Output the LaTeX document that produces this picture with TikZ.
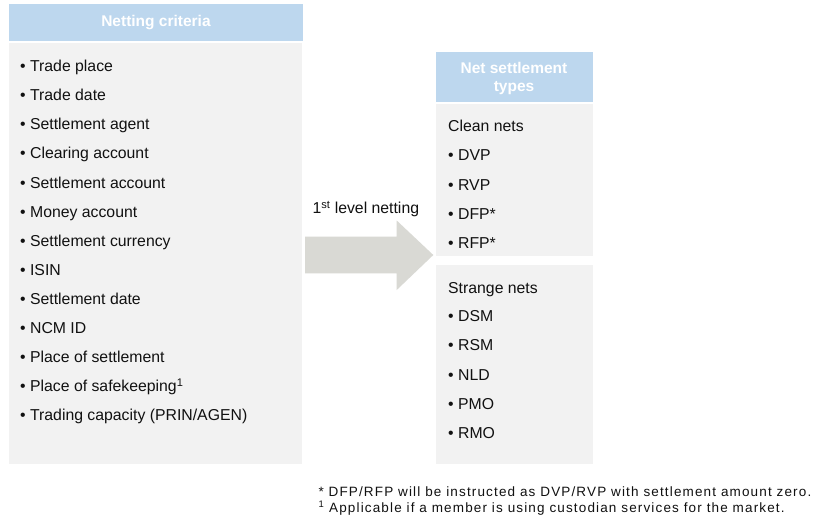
\documentclass[tikz,border=0pt]{standalone}
\usepackage{fontspec}
\setmainfont{Liberation Sans}
\newfontfamily\footfont[LetterSpace=8.5]{Liberation Sans}
\definecolor{hdrblue}{HTML}{BDD7EE}
\definecolor{bodygray}{HTML}{F2F2F2}
\definecolor{arrowgray}{HTML}{D9D9D4}
\definecolor{txt}{HTML}{111111}
\begin{document}
\begin{tikzpicture}[x=1pt,y=-1pt,
  hdr/.style={fill=hdrblue,draw=none,anchor=north west,inner sep=0pt},
  panel/.style={fill=bodygray,draw=none,anchor=north west,inner sep=0pt},
  item/.style={anchor=base west,inner sep=0pt,text=txt,font=\fontsize{15.8}{18}\selectfont},
  hdrtext/.style={anchor=base,inner sep=0pt,text=white,font=\fontsize{15.5}{18}\selectfont\bfseries},
  foot/.style={anchor=base west,inner sep=0pt,text=txt,font=\fontsize{13.5}{16}\footfont}]
\useasboundingbox (0,0) rectangle (825,520);
\fill[white] (0,0) rectangle (825,520);
% left column
\node[hdr,minimum width=294pt,minimum height=37pt] (crithead) at (9,4) {};
\node[panel,minimum width=293pt,minimum height=421pt] (critbody) at (9,43) {};
\node[hdrtext] (crittitle) at (156,26.5) {Netting criteria};
\foreach \t [count=\k from 0] in {Trade place,Trade date,Settlement agent,Clearing account,Settlement account,Money account,Settlement currency,ISIN,Settlement date,NCM ID,Place of settlement,Place of safekeeping\textsuperscript{1},Trading capacity (PRIN/AGEN)}
  \node[item] (crit\k) at (20,71.7+29.08*\k) {• \t};
% right column
\node[hdr,minimum width=157pt,minimum height=50pt] (typehead) at (436,52) {};
\node[hdrtext] (typetitle1) at (514,73.3) {Net settlement};
\node[hdrtext] (typetitle2) at (514,91.7) {types};
\node[panel,minimum width=157pt,minimum height=152pt] (cleanbox) at (436,104) {};
\node[panel,minimum width=157pt,minimum height=199pt] (strangebox) at (436,265) {};
\node[item] (cleanlbl) at (448,131.7) {Clean nets};
\node[item] (dvp) at (448,160.7) {• DVP};
\node[item] (rvp) at (448,190) {• RVP};
\node[item] (dfp) at (448,219) {• DFP*};
\node[item] (rfp) at (448,248.3) {• RFP*};
\node[item] (strangelbl) at (448,293.3) {Strange nets};
\node[item] (dsm) at (448,321.7) {• DSM};
\node[item] (rsm) at (448,350.7) {• RSM};
\node[item] (nld) at (448,380) {• NLD};
\node[item] (pmo) at (448,409.3) {• PMO};
\node[item] (rmo) at (448,438.3) {• RMO};
% arrow
\fill[arrowgray] (305,236.7) -- (396.7,236.7) -- (396.7,220.5) -- (433.3,255) -- (396.7,290) -- (396.7,273.3) -- (305,273.3) -- cycle;
\node[item] (netlbl) at (312.3,213.3) {1\textsuperscript{st} level netting};
% footnotes
\node[foot] (foot1) at (318.3,496) {* DFP/RFP will be instructed as DVP/RVP with settlement amount zero.};
\node[foot] (foot2) at (318.3,512.7) {\textsuperscript{1} Applicable if a member is using custodian services for the market.};
\end{tikzpicture}
\end{document}
